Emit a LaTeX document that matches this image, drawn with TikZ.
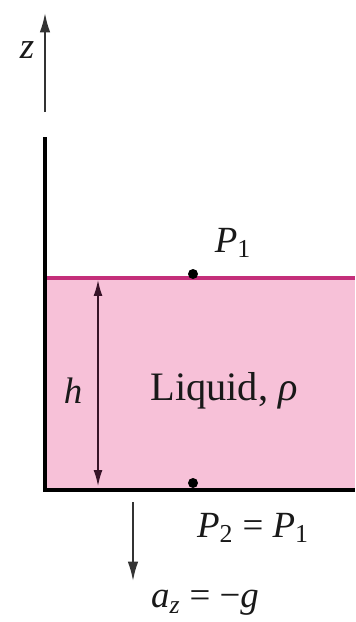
\documentclass[tikz,border=0pt]{standalone}
\usepackage{fontspec}
\setmainfont{Liberation Serif}
\usepackage{xcolor}
\usetikzlibrary{arrows.meta}

\definecolor{liquidpink}{RGB}{247,193,216}
\definecolor{surfacepink}{RGB}{196,46,122}
\definecolor{darkline}{RGB}{55,20,40}

\newcommand{\sym}[1]{\textit{#1}}
\newcommand{\sub}[1]{\textsubscript{#1}}

\tikzset{
  lbl/.style={font=\fontsize{21}{25}\selectfont, text=black!90, inner sep=0pt},
  dimarrow/.style={line width=0.8pt, darkline, {Latex[length=9pt,width=5pt]}-{Latex[length=9pt,width=5pt]}},
  axarrow/.style={line width=1.1pt, black!80, -{Latex[length=11pt,width=6pt]}}
}

\begin{document}
\begin{tikzpicture}[x=0.02cm, y=-0.02cm]
        \useasboundingbox (0,0) rectangle (355,622);

        % Define corners of the tank
        \coordinate (WallTop) at (45, 137);   % Top of left wall
        \coordinate (Corner) at (45, 490);    % Bottom-left corner
        \coordinate (BotRight) at (355, 490); % Bottom-right
        \coordinate (SurfL) at (47, 278);     % Free surface, left
        \coordinate (SurfR) at (355, 278);    % Free surface, right

        % Liquid body
        \fill[liquidpink] (SurfL) rectangle (BotRight);

        % Free surface
        \draw[line width=1.8pt, surfacepink] (SurfL) -- (SurfR);

        % Tank walls
        \draw[line width=2.8pt, black] (WallTop) -- (Corner) -- (BotRight);

        % Points on surface and bottom
        \coordinate (Pt1) at (193, 274);
        \coordinate (Pt2) at (193, 483);
        \fill[black] (Pt1) circle (5);
        \fill[black] (Pt2) circle (5);

        % z axis
        \coordinate (ZBase) at (45, 112);
        \coordinate (ZTip) at (45, 13);
        \draw[axarrow] (ZBase) -- (ZTip);
        \node[lbl] (zlab) at (27, 50) {\sym{z}};

        % Depth h
        \coordinate (HTop) at (98, 280);
        \coordinate (HBot) at (98, 486);
        \draw[dimarrow] (HTop) -- (HBot);
        \node[lbl] (hlab) at (73, 391) {\sym{h}};

        % Labels
        \node[lbl, font=\fontsize{23}{27}\selectfont] (liquid) at (224, 391) {Liquid, \sym{ρ}};
        \node[lbl] (p1lab) at (233, 243) {\sym{P}\sub{1}};
        \node[lbl] (p2lab) at (253, 528) {\sym{P}\sub{2} = \sym{P}\sub{1}};

        % Acceleration
        \coordinate (ATop) at (133, 502);
        \coordinate (ABot) at (133, 581);
        \draw[axarrow] (ATop) -- (ABot);
        \node[lbl] (alab) at (205, 603) {\sym{a}\sub{\sym{z}} = −\sym{g}};

    \end{tikzpicture}
\end{document}
